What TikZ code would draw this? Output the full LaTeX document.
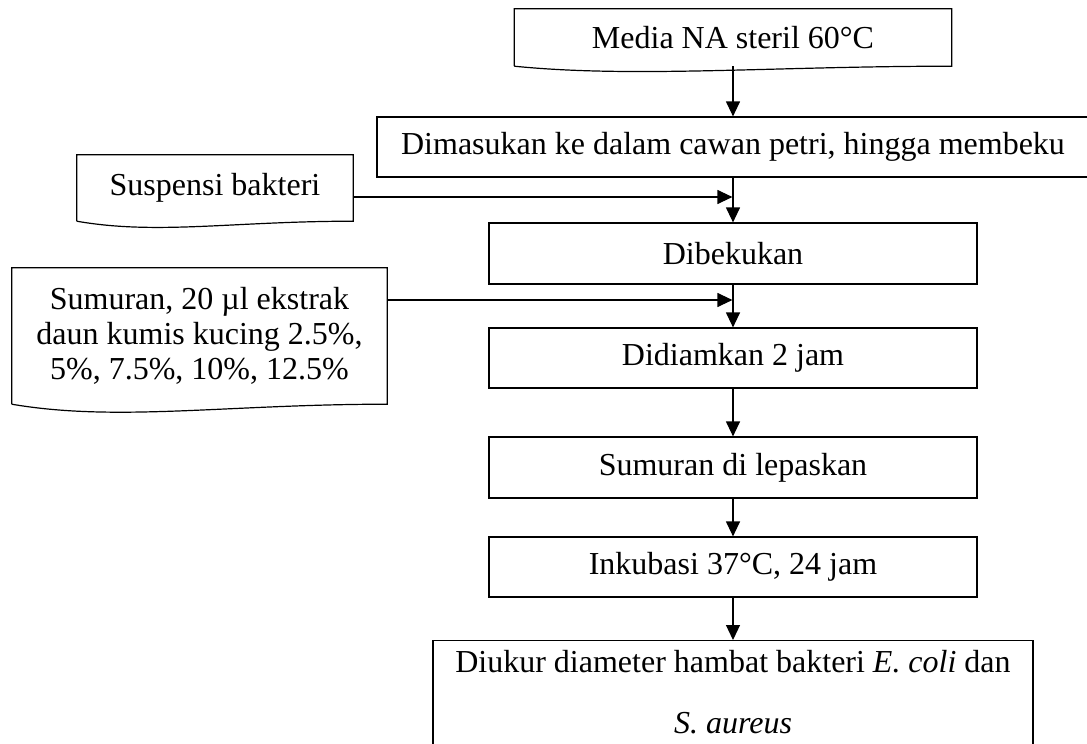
\documentclass[tikz,border=0pt]{standalone}
\usepackage{fontspec}
\setmainfont{Liberation Serif}
\usetikzlibrary{arrows.meta,calc}
\tikzset{
    proc/.style = {
        draw,
        rectangle,
        line width=1.2pt,
        inner sep=0pt,
        align=center,
        },
    docu/.style = {
        rectangle,
        inner sep=0pt,
        align=center,
        },
    docu line/.style = {
        line width=1.2pt,
        },
    flow/.style = {
        line width=1.2pt,
        -{Triangle[length=15pt,width=14pt]},
        },
}

\begin{document}
\begin{tikzpicture}[x=1pt,y=-1pt,font=\fontsize{32}{35}\selectfont]
            \useasboundingbox[fill=white] (0,0) rectangle (1087,744);
            \clip (0,0) rectangle (1087,744);

            \node[docu, minimum width=437pt, minimum height=57pt] (media) at (733,37.5) {Media NA steril 60°C};
            \node[proc, minimum width=712pt, minimum height=60pt] (masuk) at (733,147) {Dimasukan ke dalam cawan petri, hingga membeku};
            \node[docu, minimum width=276pt, minimum height=66pt] (susp) at (215,188) {Suspensi bakteri};
            \node[proc, minimum width=488pt, minimum height=61pt] (beku) at (733,253.5) {Dibekukan};
            \node[docu, minimum width=375pt, minimum height=136pt] (sumur) at (199.5,336) {Sumuran, 20 µl ekstrak\\daun kumis kucing 2.5\%,\\5\%, 7.5\%, 10\%, 12.5\%};
            \node[proc, minimum width=488pt, minimum height=60pt] (diam) at (733,358) {Didiamkan 2 jam};
            \node[proc, minimum width=488pt, minimum height=61pt] (lepas) at (733,467.5) {Sumuran di lepaskan};
            \node[proc, minimum width=488pt, minimum height=60pt] (inku) at (733,567) {Inkubasi 37°C, 24 jam};
            \node[proc, anchor=north, minimum width=600pt, inner ysep=10pt, text depth=30pt] (ukur) at (733,640) {Diukur diameter hambat bakteri \textit{E. coli} dan\\[26pt]\textit{S. aureus}};

            % document outlines with wavy bottom
            \draw[docu line] (media.south west) -- (media.north west) -- (media.north east) -- (media.south east)
                .. controls +(-180,0) and +(120,12) .. (media.south west);
            \draw[docu line] (susp.south west) -- (susp.north west) -- (susp.north east) -- (susp.south east)
                .. controls +(-120,0) and +(80,14) .. (susp.south west);
            \draw[docu line] (sumur.south west) -- (sumur.north west) -- (sumur.north east) -- (sumur.south east)
                .. controls +(-160,0) and +(105,18) .. (sumur.south west);

            % joins on the main line
            \coordinate (j1) at (733,197);
            \coordinate (j2) at (733,300);

            \path (media.south) edge[flow] (masuk.north);
            \path (masuk.south) edge[flow] (beku.north);
            \path (beku.south) edge[flow] (diam.north);
            \path (diam.south) edge[flow] (lepas.north);
            \path (lepas.south) edge[flow] (inku.north);
            \path (inku.south) edge[flow] (ukur.north);

            % side inputs
            \path (susp.east |- j1) edge[flow, shorten >=0.6pt] (j1);
            \path (sumur.east |- j2) edge[flow, shorten >=0.6pt] (j2);
        \end{tikzpicture}
\end{document}
